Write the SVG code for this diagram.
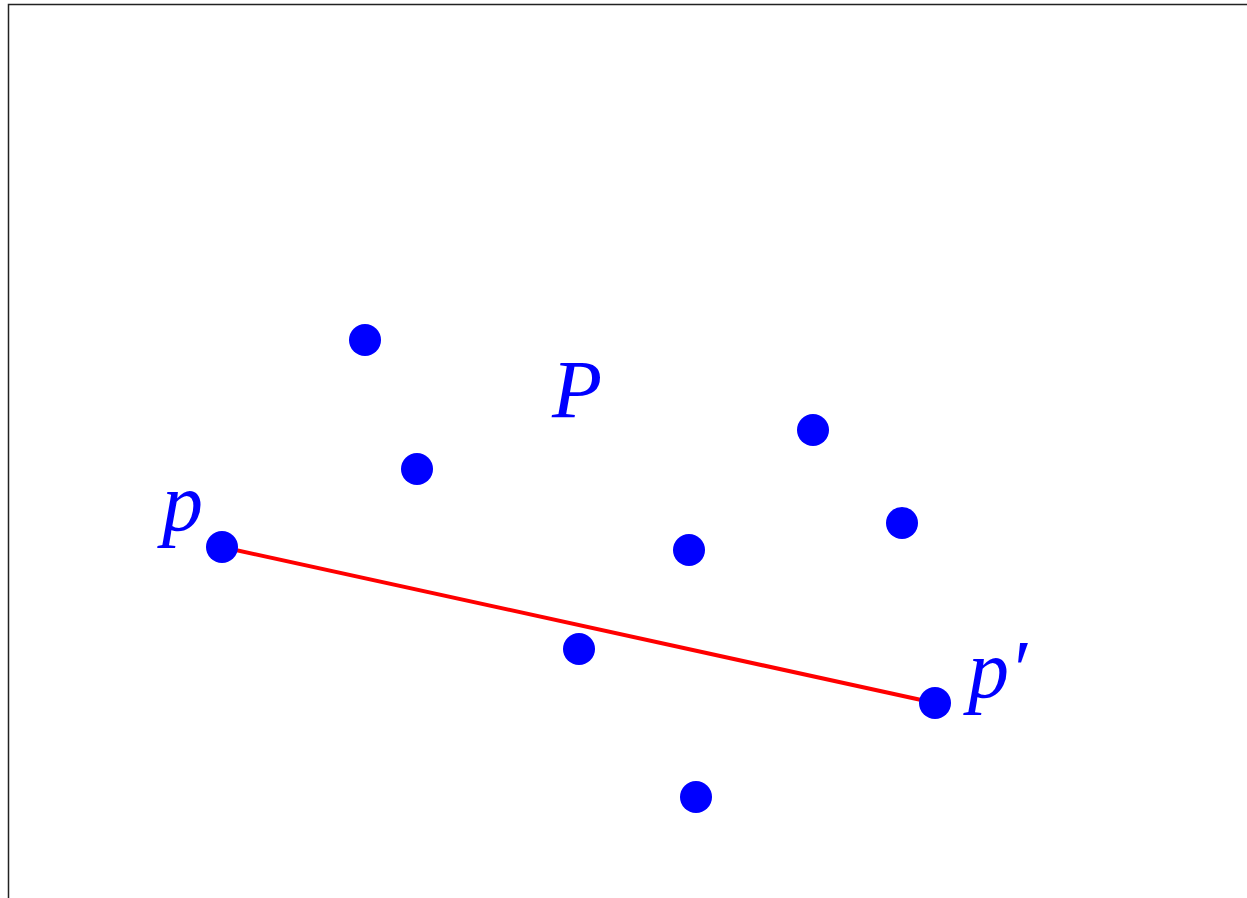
<svg xmlns="http://www.w3.org/2000/svg" width="1247" height="898" viewBox="0 0 1247 898">
<style>
.pt{fill:#0000ff}
.lbl{fill:#0000ff;font-family:"Liberation Serif","DejaVu Serif",serif;font-style:italic;font-size:82px}
.frame{stroke:#222;stroke-width:1.5;fill:none}
.edge{stroke:#ff0000;stroke-width:4;fill:none}
</style>
<rect width="1247" height="898" fill="#fff"/>
<path class="frame" d="M8.5,898 V4.5 H1247"/>
<g id="connectors">
<line class="edge" x1="222" y1="547" x2="935" y2="703"/>
</g>
<g id="n1"><circle class="pt" cx="365" cy="340" r="16"/></g>
<g id="n2"><circle class="pt" cx="417" cy="469" r="16"/></g>
<g id="n3"><circle class="pt" cx="813" cy="430" r="16"/></g>
<g id="n4"><circle class="pt" cx="902" cy="523" r="16"/></g>
<g id="n5"><circle class="pt" cx="689" cy="550" r="16"/></g>
<g id="p"><circle class="pt" cx="222" cy="547" r="16"/><text class="lbl" x="162" y="530">p</text></g>
<g id="n6"><circle class="pt" cx="579" cy="649" r="16"/></g>
<g id="pprime"><circle class="pt" cx="935" cy="703" r="16"/><text class="lbl" x="968" y="697">p′</text></g>
<g id="n7"><circle class="pt" cx="696" cy="797" r="16"/></g>
<g id="P"><text class="lbl" x="552" y="417">P</text></g>
</svg>
